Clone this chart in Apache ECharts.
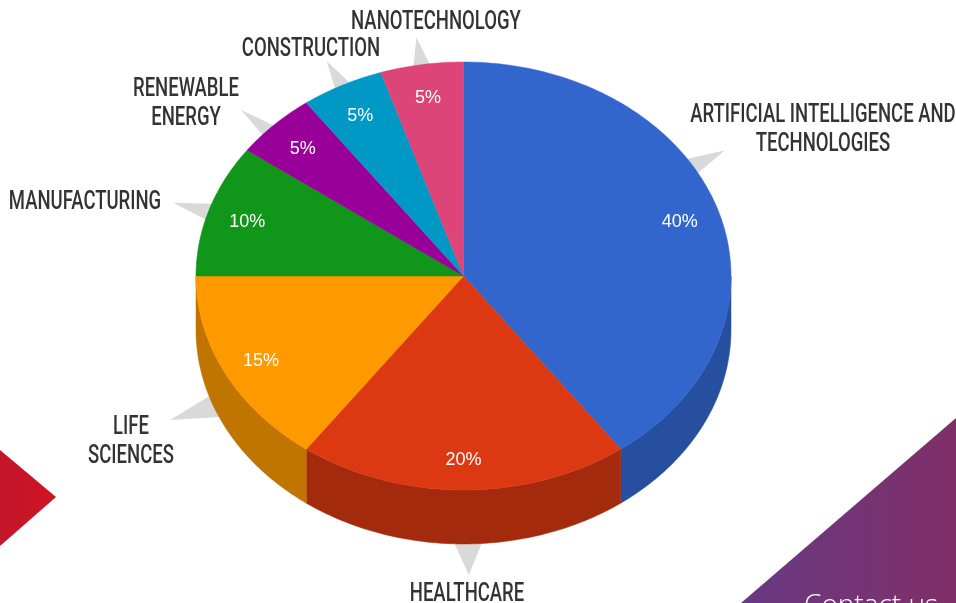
<!DOCTYPE html>
<html>
<head>
<meta charset="utf-8">
<style>
html, body { margin: 0; padding: 0; background: #fff; }
#chart { width: 956px; height: 603px; }
</style>
<script src="https://cdn.jsdelivr.net/npm/echarts@6/dist/echarts.min.js"></script>
</head>
<body>
<div id="chart"></div>
<script>
var categories = ['ARTIFICIAL INTELLIGENCE AND\nTECHNOLOGIES', 'HEALTHCARE', 'LIFE\nSCIENCES', 'MANUFACTURING', 'RENEWABLE\nENERGY', 'CONSTRUCTION', 'NANOTECHNOLOGY'];
var shares = [40, 20, 15, 10, 5, 5, 5];
var topColors = ['#3366cc', '#dc3912', '#ff9900', '#109618', '#990099', '#0099c6', '#dd4477'];
var sideColors = ['#26509f', '#a32a0d', '#bf7500', '#0c7012', '#720072', '#007294', '#a53359'];

// label + pointer placement, same order as categories
var labelSpots = [[823, 127], [467, 592], [131, 439], [85, 200], [186, 101], [311, 47], [436, 20]];
var pointerAngles = [59, 179, 249, 287.5, 313, 333, 351];
var pointerReach = [1.139, 1.145, 1.174, 1.138, 1.137, 1.126, 1.128];
var pointerSpread = [2.8, 3.6, 3.6, 2.8, 2.2, 2.2, 2.2];

var cx = 463.5, cy = 276, rx = 267.5, ry = 214, depth = 54;

var total = 0;
shares.forEach(function (v) { total += v; });

// start/end angle of each slice, clockwise from 12 o'clock
var angles = [];
var run = 0;
shares.forEach(function (v) {
    angles.push([run / total * 360, (run + v) / total * 360]);
    run += v;
});

function pt(deg, ratio, dy) {
    var a = deg * Math.PI / 180;
    return [cx + rx * ratio * Math.sin(a), cy - ry * ratio * Math.cos(a) + (dy || 0)];
}

function arc(from, to, dy) {
    var pts = [];
    var n = Math.max(2, Math.ceil(Math.abs(to - from)));
    for (var i = 0; i <= n; i++) {
        pts.push(pt(from + (to - from) * i / n, 1, dy));
    }
    return pts;
}

var rows = shares.map(function (v, i) { return [v, i]; });

function renderPointer(params, api) {
    var i = api.value(1);
    var a = pointerAngles[i];
    var dy = a > 90 && a < 270 ? depth : 0;
    return {
        type: 'polygon',
        shape: { points: [pt(a, pointerReach[i], dy), pt(a - pointerSpread[i], 0.97, dy), pt(a + pointerSpread[i], 0.97, dy)] },
        style: { fill: '#d9d9d9' }
    };
}

function renderSide(params, api) {
    var i = api.value(1);
    var from = Math.max(angles[i][0], 90);
    var to = Math.min(angles[i][1], 270);
    if (from >= to) return null;
    return {
        type: 'polygon',
        shape: { points: arc(from, to, 0).concat(arc(to, from, depth)) },
        style: { fill: sideColors[i], stroke: sideColors[i], lineWidth: 0.5 }
    };
}

function renderTop(params, api) {
    var i = api.value(1);
    var spot = pt((angles[i][0] + angles[i][1]) / 2, 0.85, 2);
    return {
        type: 'group',
        children: [{
            type: 'polygon',
            shape: { points: [[cx, cy]].concat(arc(angles[i][0], angles[i][1], 0)) },
            style: { fill: topColors[i], stroke: topColors[i], lineWidth: 0.5 }
        }, {
            type: 'text',
            z2: 10,
            style: {
                text: api.value(0) + '%',
                x: spot[0],
                y: spot[1],
                align: 'center',
                verticalAlign: 'middle',
                fill: '#fff',
                font: '18px "Liberation Sans", Arial, sans-serif'
            }
        }]
    };
}

var chart = echarts.init(document.getElementById('chart'));

var graphics = [{
    type: 'polygon',
    silent: true,
    z: 0,
    shape: { points: [[0, 450], [56, 497], [0, 546]] },
    style: {
        fill: new echarts.graphic.LinearGradient(0, 0, 1, 0, [
            { offset: 0, color: '#c2162b' },
            { offset: 1, color: '#d01423' }
        ])
    }
}, {
    type: 'polygon',
    silent: true,
    z: 0,
    shape: { points: [[956, 418], [741, 603], [956, 603]] },
    style: {
        fill: new echarts.graphic.LinearGradient(0, 0, 1, 0, [
            { offset: 0, color: '#683983' },
            { offset: 1, color: '#802f67' }
        ])
    }
}, {
    type: 'text',
    silent: true,
    z: 1,
    x: 804,
    y: 592,
    style: {
        text: 'Contact us',
        verticalAlign: 'top',
        fill: '#fff',
        font: '300 28px "Open Sans", sans-serif'
    }
}];

categories.forEach(function (name, i) {
    graphics.push({
        type: 'text',
        silent: true,
        z: 20,
        x: labelSpots[i][0],
        y: labelSpots[i][1] + 3,
        scaleX: 0.74, // the original face is a condensed one, none installed
        style: {
            text: name,
            align: 'center',
            verticalAlign: 'middle',
            lineHeight: 29,
            fill: '#333',
            font: '500 25px Roboto, sans-serif'
        }
    });
});

chart.setOption({
    backgroundColor: '#fff',
    animation: false,
    graphic: graphics,
    series: [
        { type: 'custom', coordinateSystem: 'none', z: 2, silent: true, data: rows, renderItem: renderPointer },
        { type: 'custom', coordinateSystem: 'none', z: 3, silent: true, data: rows, renderItem: renderSide },
        { type: 'custom', coordinateSystem: 'none', z: 4, silent: true, data: rows, renderItem: renderTop }
    ]
});
</script>
</body>
</html>
